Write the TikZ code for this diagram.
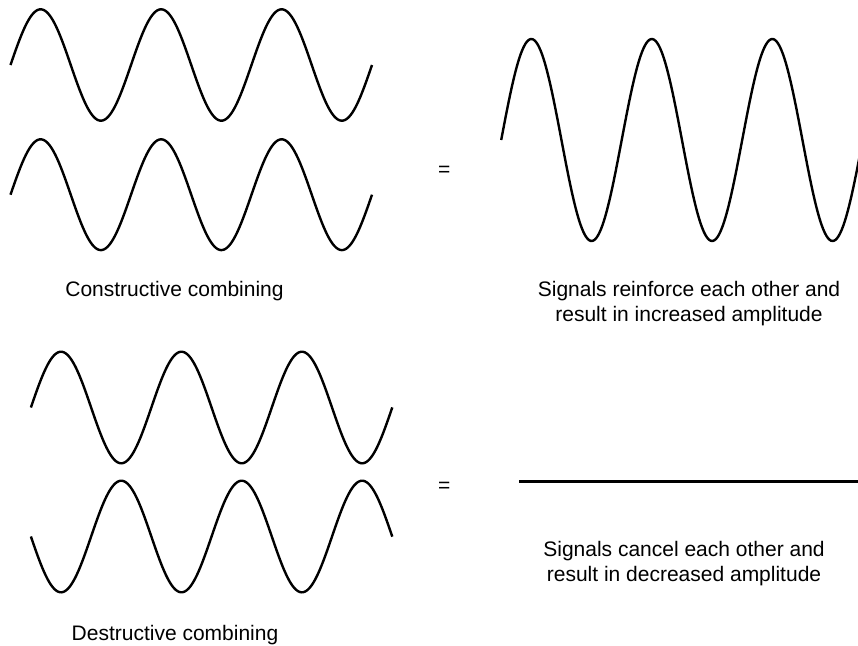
\documentclass[tikz,border=0pt]{standalone}
\usepackage{fontspec}
\setmainfont{Liberation Sans}
\begin{document}
\begin{tikzpicture}[x=1pt,y=-1pt,
  wave/.style={line width=2.4pt, black},
  lbl/.style={font=\fontsize{21}{25}\selectfont, inner sep=0pt, anchor=base, align=center},
  eqs/.style={font=\fontsize{21}{25}\selectfont, inner sep=0pt}]
\useasboundingbox (0,0) rectangle (858,645);
\clip (0,0) rectangle (858,645);
% top-left waves
\draw[wave] plot[domain=10.5:372, samples=240, smooth] (\x, {65 - 55.7*sin(2.98755*(\x-10.5))});
\draw[wave] plot[domain=10.5:372, samples=240, smooth] (\x, {194.7 - 55.4*sin(2.98755*(\x-10.5))});
% top-right wave
\draw[wave] plot[domain=501.2:862.7, samples=240, smooth] (\x, {140 - 101*sin(2.98755*(\x-501.2))});
% bottom-left waves
\draw[wave] plot[domain=30.9:392.3, samples=240, smooth] (\x, {407.5 - 55.8*sin(2.98879*(\x-30.9))});
\draw[wave] plot[domain=30.9:392.3, samples=240, smooth] (\x, {536.5 + 55.8*sin(2.98879*(\x-30.9))});
% flat line
\coordinate (f1) at (519.3,481.3);
\coordinate (f2) at (858,481.3);
\draw[line width=2.6pt] (f1) -- (f2);
% equals
\node[eqs] (eq1) at (444.3,171) {=};
\node[eqs] (eq2) at (444.3,487) {=};
% labels
\node[lbl] (c1) at (174.5,296.7) {Constructive combining};
\node[lbl] (c2) at (689,321) {Signals reinforce each other and\\result in increased amplitude};
\node[lbl] (d1) at (175,640) {Destructive combining};
\node[lbl] (d2) at (684,581.7) {Signals cancel each other and\\result in decreased amplitude};
\end{tikzpicture}
\end{document}
